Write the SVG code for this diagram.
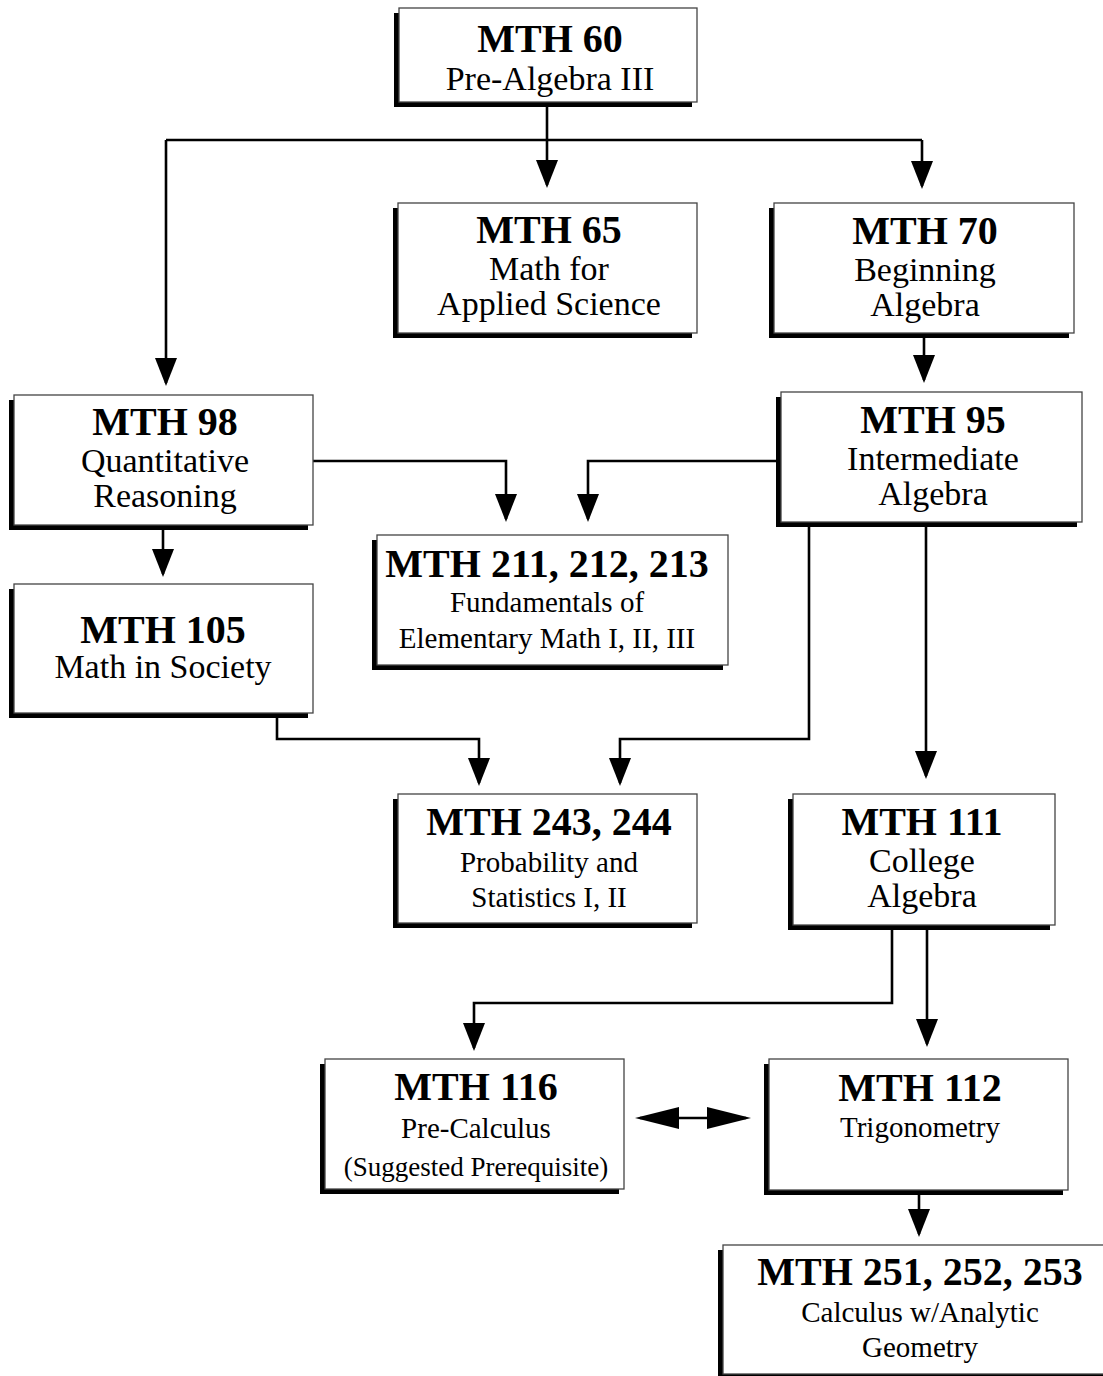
<svg xmlns="http://www.w3.org/2000/svg" width="1103" height="1376" viewBox="0 0 1103 1376">
<style>
.sh{fill:#000}
.bx{fill:#fff;stroke:#444;stroke-width:1.3}
.c{fill:none;stroke:#000;stroke-width:2.6}
text{font-family:"Liberation Serif","Times New Roman",serif;text-anchor:middle;fill:#000}
.t{font-size:40px;font-weight:bold}
.s{font-size:34px}
.m{font-size:29px}
.n{font-size:27px}
</style>
<defs>
<marker id="ah" viewBox="0 0 28 22" markerWidth="28" markerHeight="22" refX="25" refY="11" orient="auto" markerUnits="userSpaceOnUse">
<path d="M0,0 L28,11 L0,22 z" fill="#000"/>
</marker>
<marker id="big" viewBox="0 0 44 22" markerWidth="44" markerHeight="22" refX="39" refY="11" orient="auto-start-reverse" markerUnits="userSpaceOnUse">
<path d="M0,0 L44,11 L0,22 z" fill="#000"/>
</marker>
</defs>
<rect width="1103" height="1376" fill="#fff"/>
<g id="connectors">
<path class="c" d="M547,102 V140"/>
<path class="c" d="M166,140 H922"/>
<path class="c" d="M547,140 V185" marker-end="url(#ah)"/>
<path class="c" d="M166,140 V383" marker-end="url(#ah)"/>
<path class="c" d="M922,140 V186" marker-end="url(#ah)"/>
<path class="c" d="M924,333 V380" marker-end="url(#ah)"/>
<path class="c" d="M313,461 H506 V519" marker-end="url(#ah)"/>
<path class="c" d="M781,461 H588 V519" marker-end="url(#ah)"/>
<path class="c" d="M163,525 V574" marker-end="url(#ah)"/>
<path class="c" d="M277,713 V739 H479 V783" marker-end="url(#ah)"/>
<path class="c" d="M809,522 V739 H620 V783" marker-end="url(#ah)"/>
<path class="c" d="M926,522 V776" marker-end="url(#ah)"/>
<path class="c" d="M892,925 V1003 H474 V1048" marker-end="url(#ah)"/>
<path class="c" d="M927,925 V1044" marker-end="url(#ah)"/>
<path class="c" d="M640,1118 H746" marker-start="url(#big)" marker-end="url(#big)"/>
<path class="c" d="M919,1190 V1234" marker-end="url(#ah)"/>
</g>
<g id="mth60">
<rect class="sh" x="394" y="13" width="298" height="94"/>
<rect class="bx" x="399" y="8" width="298" height="94"/>
<text class="t" x="550" y="52">MTH 60</text>
<text class="s" x="550" y="90">Pre-Algebra III</text>
</g>
<g id="mth65">
<rect class="sh" x="393" y="208" width="299" height="130"/>
<rect class="bx" x="398" y="203" width="299" height="130"/>
<text class="t" x="549" y="243">MTH 65</text>
<text class="s" x="549" y="280">Math for</text>
<text class="s" x="549" y="315">Applied Science</text>
</g>
<g id="mth70">
<rect class="sh" x="769" y="208" width="300" height="130"/>
<rect class="bx" x="774" y="203" width="300" height="130"/>
<text class="t" x="925" y="244">MTH 70</text>
<text class="s" x="925" y="281">Beginning</text>
<text class="s" x="925" y="316">Algebra</text>
</g>
<g id="mth98">
<rect class="sh" x="9" y="400" width="299" height="130"/>
<rect class="bx" x="14" y="395" width="299" height="130"/>
<text class="t" x="165" y="435">MTH 98</text>
<text class="s" x="165" y="472">Quantitative</text>
<text class="s" x="165" y="507">Reasoning</text>
</g>
<g id="mth95">
<rect class="sh" x="776" y="397" width="301" height="130"/>
<rect class="bx" x="781" y="392" width="301" height="130"/>
<text class="t" x="933" y="433">MTH 95</text>
<text class="s" x="933" y="470">Intermediate</text>
<text class="s" x="933" y="505">Algebra</text>
</g>
<g id="mth211">
<rect class="sh" x="372" y="540" width="351" height="130"/>
<rect class="bx" x="377" y="535" width="351" height="130"/>
<text class="t" x="547" y="577">MTH 211, 212, 213</text>
<text class="m" x="547" y="612">Fundamentals of</text>
<text class="m" x="547" y="648">Elementary Math I, II, III</text>
</g>
<g id="mth105">
<rect class="sh" x="9" y="589" width="299" height="129"/>
<rect class="bx" x="14" y="584" width="299" height="129"/>
<text class="t" x="163" y="643">MTH 105</text>
<text class="s" x="163" y="678">Math in Society</text>
</g>
<g id="mth243">
<rect class="sh" x="393" y="799" width="299" height="129"/>
<rect class="bx" x="398" y="794" width="299" height="129"/>
<text class="t" x="549" y="835">MTH 243, 244</text>
<text class="m" x="549" y="872">Probability and</text>
<text class="m" x="549" y="907">Statistics I, II</text>
</g>
<g id="mth111">
<rect class="sh" x="788" y="799" width="262" height="131"/>
<rect class="bx" x="793" y="794" width="262" height="131"/>
<text class="t" x="922" y="835">MTH 111</text>
<text class="s" x="922" y="872">College</text>
<text class="s" x="922" y="907">Algebra</text>
</g>
<g id="mth116">
<rect class="sh" x="320" y="1064" width="299" height="130"/>
<rect class="bx" x="325" y="1059" width="299" height="130"/>
<text class="t" x="476" y="1100">MTH 116</text>
<text class="m" x="476" y="1138">Pre-Calculus</text>
<text class="n" x="476" y="1176">(Suggested Prerequisite)</text>
</g>
<g id="mth112">
<rect class="sh" x="764" y="1064" width="299" height="131"/>
<rect class="bx" x="769" y="1059" width="299" height="131"/>
<text class="t" x="920" y="1101">MTH 112</text>
<text class="m" x="920" y="1137">Trigonometry</text>
</g>
<g id="mth251">
<rect class="sh" x="718" y="1250" width="394" height="129"/>
<rect class="bx" x="723" y="1245" width="394" height="129"/>
<text class="t" x="920" y="1285">MTH 251, 252, 253</text>
<text class="m" x="920" y="1322">Calculus w/Analytic</text>
<text class="m" x="920" y="1357">Geometry</text>
</g>
</svg>
